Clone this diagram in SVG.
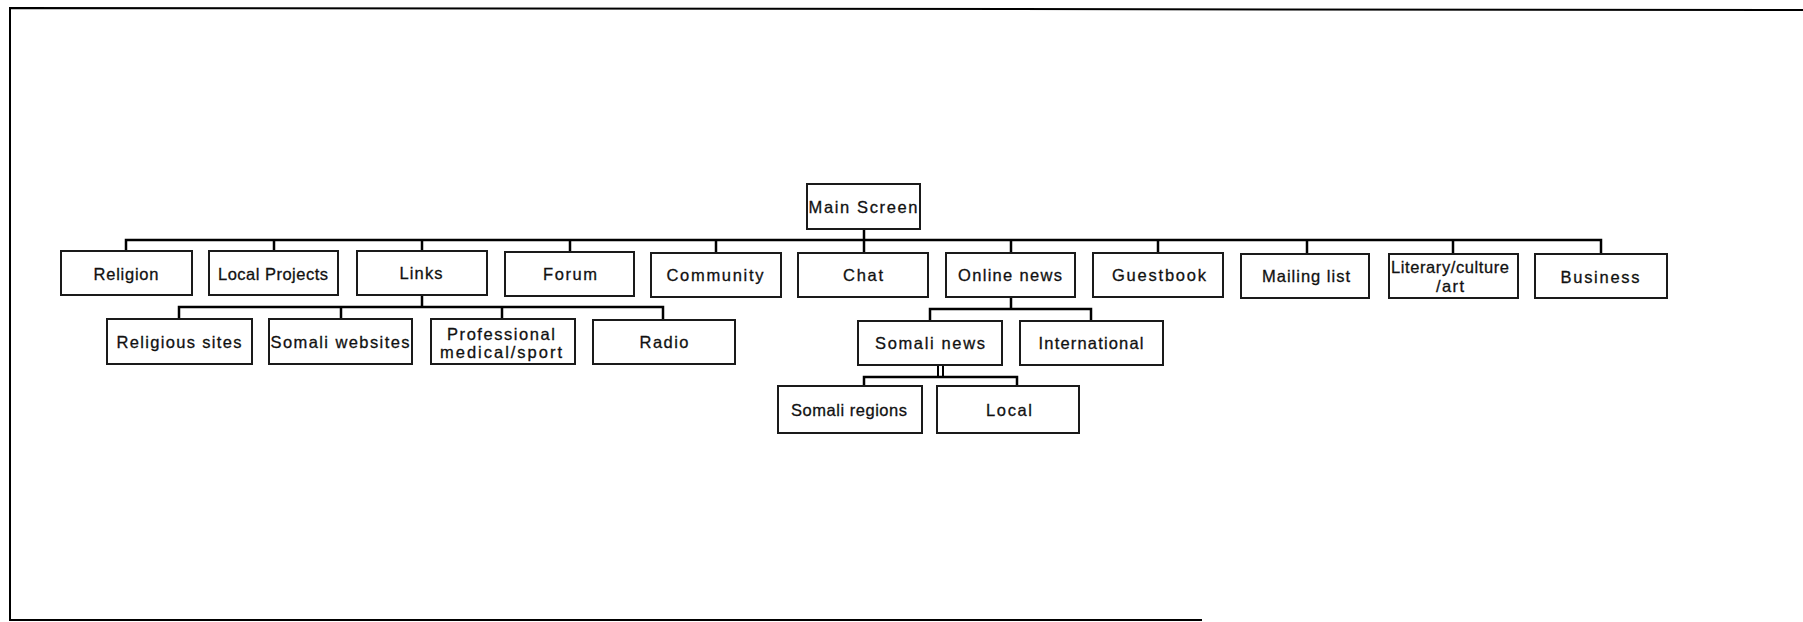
<svg xmlns="http://www.w3.org/2000/svg" width="1803" height="622" viewBox="0 0 1803 622">
<style>
.b{fill:#fff;stroke:#1a1a1a;stroke-width:2}
.t{font-family:"Liberation Sans",Arial,sans-serif;font-size:16.5px;fill:#111;stroke:#111;stroke-width:0.3;text-anchor:middle}
.c{fill:none;stroke:#000;stroke-width:2.5}
.f{fill:none;stroke:#000;stroke-width:2}
</style>
<rect width="1803" height="622" fill="#fff"/>
<g id="frame"><path class="f" d="M1803 10 L10 8 L10 620 L1202 620"/></g>
<g id="connectors">
<path class="c" d="M864 229 V253 M126 251 V240 H1601 V254 M274 240 V251 M422 240 V251 M570 240 V252 M716 240 V253 M1011 240 V253 M1158 240 V253 M1307 240 V253 M1453 240 V253"/>
<path class="c" d="M422 295 V307 M179 319 V307 H663 V320 M341 307 V319 M502 307 V319"/>
<path class="c" d="M1011 297 V309 M930 321 V309 H1091 V321"/>
<path class="f" d="M938 365 V377 M943 365 V377"/>
<path class="c" d="M864 386 V377 H1017 V386"/>
</g>
<g id="main"><rect class="b" x="807" y="184" width="113" height="45"/><text class="t" x="863" y="213" textLength="109" lengthAdjust="spacing">Main Screen</text></g>
<g id="religion"><rect class="b" x="61" y="251" width="131" height="44"/><text class="t" x="126" y="280" textLength="65" lengthAdjust="spacing">Religion</text></g>
<g id="localprojects"><rect class="b" x="209" y="251" width="129" height="44"/><text class="t" x="273" y="280" textLength="110" lengthAdjust="spacing">Local Projects</text></g>
<g id="links"><rect class="b" x="357" y="251" width="130" height="44"/><text class="t" x="421" y="279" textLength="43" lengthAdjust="spacing">Links</text></g>
<g id="forum"><rect class="b" x="505" y="252" width="129" height="44"/><text class="t" x="570" y="280" textLength="54" lengthAdjust="spacing">Forum</text></g>
<g id="community"><rect class="b" x="651" y="253" width="130" height="44"/><text class="t" x="715" y="281" textLength="97" lengthAdjust="spacing">Community</text></g>
<g id="chat"><rect class="b" x="798" y="253" width="130" height="44"/><text class="t" x="863" y="281" textLength="40" lengthAdjust="spacing">Chat</text></g>
<g id="onlinenews"><rect class="b" x="946" y="253" width="129" height="44"/><text class="t" x="1010" y="281" textLength="104" lengthAdjust="spacing">Online news</text></g>
<g id="guestbook"><rect class="b" x="1093" y="253" width="130" height="44"/><text class="t" x="1159" y="281" textLength="94" lengthAdjust="spacing">Guestbook</text></g>
<g id="mailinglist"><rect class="b" x="1241" y="254" width="128" height="44"/><text class="t" x="1306" y="282" textLength="88" lengthAdjust="spacing">Mailing list</text></g>
<g id="literary"><rect class="b" x="1389" y="254" width="129" height="44"/><text class="t" x="1450" y="273" textLength="118" lengthAdjust="spacing">Literary/culture</text><text class="t" x="1450" y="292" textLength="28" lengthAdjust="spacing">/art</text></g>
<g id="business"><rect class="b" x="1535" y="254" width="132" height="44"/><text class="t" x="1600" y="283" textLength="79" lengthAdjust="spacing">Business</text></g>
<g id="religioussites"><rect class="b" x="107" y="319" width="145" height="45"/><text class="t" x="179" y="348" textLength="125" lengthAdjust="spacing">Religious sites</text></g>
<g id="somaliwebsites"><rect class="b" x="269" y="319" width="143" height="45"/><text class="t" x="340" y="348" textLength="139" lengthAdjust="spacing">Somali websites</text></g>
<g id="professional"><rect class="b" x="431" y="319" width="144" height="45"/><text class="t" x="501" y="340" textLength="108" lengthAdjust="spacing">Professional</text><text class="t" x="501" y="358" textLength="122" lengthAdjust="spacing">medical/sport</text></g>
<g id="radio"><rect class="b" x="593" y="320" width="142" height="44"/><text class="t" x="664" y="348" textLength="49" lengthAdjust="spacing">Radio</text></g>
<g id="somalinews"><rect class="b" x="858" y="321" width="144" height="44"/><text class="t" x="930" y="349" textLength="110" lengthAdjust="spacing">Somali news</text></g>
<g id="international"><rect class="b" x="1020" y="321" width="143" height="44"/><text class="t" x="1091" y="349" textLength="105" lengthAdjust="spacing">International</text></g>
<g id="somaliregions"><rect class="b" x="778" y="386" width="144" height="47"/><text class="t" x="849" y="416" textLength="116" lengthAdjust="spacing">Somali regions</text></g>
<g id="local"><rect class="b" x="937" y="386" width="142" height="47"/><text class="t" x="1009" y="416" textLength="46" lengthAdjust="spacing">Local</text></g>
</svg>
